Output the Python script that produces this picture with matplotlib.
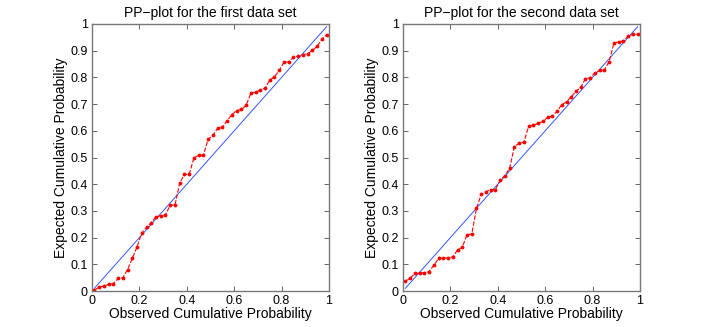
"""
PP-plot for to datasett: observert mot forventet kumulativ sannsynlighet.
"""

import matplotlib
matplotlib.use('Agg')
import matplotlib.pyplot as plt
from matplotlib.ticker import FormatStrFormatter
import numpy as np

plt.rcParams['font.family'] = ['Liberation Sans', 'DejaVu Sans']

# Observert kumulativ sannsynlighet (felles for begge datasett)
observed = [0.01, 0.03, 0.05, 0.07, 0.09, 0.11, 0.13, 0.15, 0.17, 0.19,
            0.21, 0.23, 0.25, 0.27, 0.29, 0.31, 0.33, 0.35, 0.37, 0.39,
            0.41, 0.43, 0.45, 0.47, 0.49, 0.51, 0.53, 0.55, 0.57, 0.59,
            0.61, 0.63, 0.65, 0.67, 0.69, 0.71, 0.73, 0.75, 0.77, 0.79,
            0.81, 0.83, 0.85, 0.87, 0.89, 0.91, 0.93, 0.95, 0.97, 0.99]

# Forventet kumulativ sannsynlighet, første datasett
expected_first = [0.003, 0.015, 0.018, 0.025, 0.028, 0.047, 0.050, 0.080, 0.122, 0.165,
                  0.218, 0.238, 0.256, 0.278, 0.282, 0.285, 0.322, 0.322, 0.404, 0.437,
                  0.437, 0.498, 0.508, 0.509, 0.568, 0.583, 0.609, 0.613, 0.638, 0.660,
                  0.676, 0.680, 0.695, 0.740, 0.744, 0.753, 0.759, 0.790, 0.802, 0.826,
                  0.857, 0.858, 0.875, 0.880, 0.885, 0.889, 0.901, 0.917, 0.942, 0.960]

# Forventet kumulativ sannsynlighet, andre datasett
expected_second = [0.037, 0.047, 0.066, 0.067, 0.068, 0.073, 0.096, 0.122, 0.124, 0.124,
                   0.128, 0.153, 0.164, 0.211, 0.213, 0.309, 0.362, 0.372, 0.380, 0.380,
                   0.415, 0.432, 0.460, 0.541, 0.553, 0.558, 0.617, 0.620, 0.628, 0.635,
                   0.650, 0.655, 0.673, 0.698, 0.708, 0.728, 0.748, 0.763, 0.795, 0.799,
                   0.817, 0.826, 0.829, 0.859, 0.929, 0.933, 0.937, 0.954, 0.961, 0.961]

titles = ['PP\u2212plot for the first data set', 'PP\u2212plot for the second data set']
x_ticks = [0, 0.2, 0.4, 0.6, 0.8, 1]
y_ticks = [0, 0.1, 0.2, 0.3, 0.4, 0.5, 0.6, 0.7, 0.8, 0.9, 1]


def pp_panel(ax, obs, exp, title):
    ax.plot([obs[0], obs[-1]], [obs[0], obs[-1]], color='#3355ff', lw=0.7)
    ax.plot(obs, exp, color='red', ls=(0, (4, 1.5)), lw=0.8,
            marker='.', markersize=3.5)
    ax.set_xlim(0, 1)
    ax.set_ylim(0, 1)
    ax.set_xticks(x_ticks)
    ax.set_yticks(y_ticks)
    ax.xaxis.set_major_formatter(FormatStrFormatter('%g'))
    ax.yaxis.set_major_formatter(FormatStrFormatter('%g'))
    ax.tick_params(direction='in', top=True, right=True, length=3.5,
                   width=0.7, labelsize=9, color='#666666', pad=3)
    for sp in ax.spines.values():
        sp.set_color('#777777')
        sp.set_linewidth(1.0)
    ax.set_title(title, fontsize=10, pad=5)
    ax.set_xlabel('Observed Cumulative Probability', fontsize=10, labelpad=0)
    ax.set_ylabel('Expected Cumulative Probability', fontsize=10, labelpad=2)


fig = plt.figure(figsize=(7.08, 3.27), dpi=100)
ax1 = fig.add_axes([92 / 708, 36 / 327, 237 / 708, 267 / 327])
ax2 = fig.add_axes([403 / 708, 36 / 327, 237 / 708, 267 / 327])

pp_panel(ax1, observed, expected_first, titles[0])
pp_panel(ax2, observed, expected_second, titles[1])

fig.savefig('out.png', dpi=100)
plt.close(fig)
